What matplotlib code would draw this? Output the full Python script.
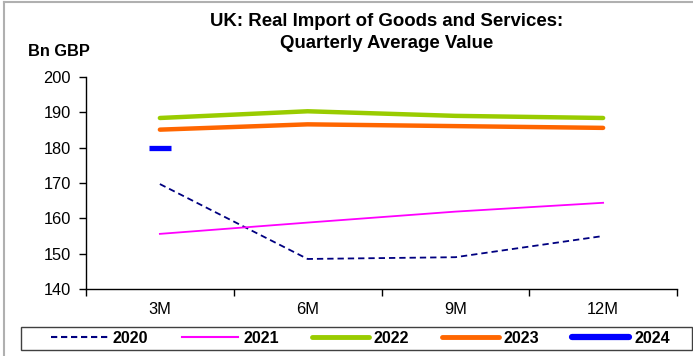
import numpy as np
import matplotlib
matplotlib.use('Agg')
import matplotlib.pyplot as plt
from matplotlib.lines import Line2D
from matplotlib.patches import Rectangle

plt.rcParams['font.family'] = ['Liberation Sans', 'DejaVu Sans']

# data
periods = ['3M', '6M', '9M', '12M']
v2020 = [169.7, 148.5, 149.0, 155.0]
v2021 = [155.6, 158.8, 161.9, 164.4]
v2022 = [188.4, 190.3, 189.0, 188.4]
v2023 = [185.1, 186.6, 186.1, 185.6]
v2024 = [180.0]

fig = plt.figure(figsize=(6.93, 3.56), dpi=100)
ax = fig.add_axes([86/693, 1-289/356, 591/693, 212/356])

x = np.arange(len(periods))
ax.plot(x, v2020, color='#000080', lw=1.3, dashes=(3.5, 2.2))
ax.plot(x, v2021, color='#FF00FF', lw=1.3)
ax.plot(x, v2022, color='#99CC00', lw=3.2, solid_capstyle='round')
ax.plot(x, v2023, color='#FF6600', lw=3.2, solid_capstyle='round')
ax.plot(x[:len(v2024)], v2024, ls='none', marker='_', color='#0000FF',
        markersize=16.5, mew=3.8)

ax.set_xlim(-0.5, len(periods) - 0.5)
ax.set_ylim(140, 200)
ax.set_yticks(np.arange(140, 201, 10))
ax.set_xticks(np.arange(-0.5, len(periods), 1.0))
ax.set_xticklabels([])
ax.set_xticks(x, minor=True)
ax.set_xticklabels(periods, minor=True)
ax.tick_params(axis='x', which='minor', length=0, pad=9.5, labelsize=11.8)
ax.tick_params(axis='x', which='major', length=5, direction='out', width=1)
ax.tick_params(axis='y', length=5, width=1, labelsize=11.8, pad=6)
for s in ['top', 'right']:
    ax.spines[s].set_visible(False)
for s in ['left', 'bottom']:
    ax.spines[s].set_linewidth(1)

fig.text(387/693, 1-22/356, 'UK: Real Import of Goods and Services:',
         ha='center', va='center', fontsize=13.4, fontweight='bold')
fig.text(387/693, 1-43/356, 'Quarterly Average Value',
         ha='center', va='center', fontsize=13.4, fontweight='bold')
fig.text(28/693, 1-52/356, 'Bn GBP', ha='left', va='center', fontsize=11.8, fontweight='bold')

handles = [
    Line2D([], [], color='#000080', lw=1.5, dashes=(3.0, 1.8)),
    Line2D([], [], color='#FF00FF', lw=1.5),
    Line2D([], [], color='#99CC00', lw=3.5, solid_capstyle='round'),
    Line2D([], [], color='#FF6600', lw=3.5, solid_capstyle='round'),
    Line2D([], [], color='#0000FF', lw=4.5, solid_capstyle='round'),
]
labels = ['2020', '2021', '2022', '2023', '2024']
fig.legend(handles, labels, ncol=5, loc='center',
           bbox_to_anchor=(360.5/693, 1-338.5/356),
           frameon=False, handlelength=3.55, handletextpad=0.31, columnspacing=2.07,
           borderaxespad=0, borderpad=0, prop={'weight': 'bold', 'size': 11.5})
fig.add_artist(Rectangle((21/693, 1-350/356), 671/693, 23/356, transform=fig.transFigure,
                         fill=False, edgecolor='#404040', lw=1.0))

# outer chart border (left and top visible)
fig.add_artist(Line2D([4/693, 4/693], [0, 1-2/356], transform=fig.transFigure,
                      color='#B0B0B0', lw=1.5))
fig.add_artist(Line2D([4/693, 1], [1-2/356, 1-2/356], transform=fig.transFigure,
                      color='#B0B0B0', lw=1.5))

fig.savefig('out.png', dpi=100)
